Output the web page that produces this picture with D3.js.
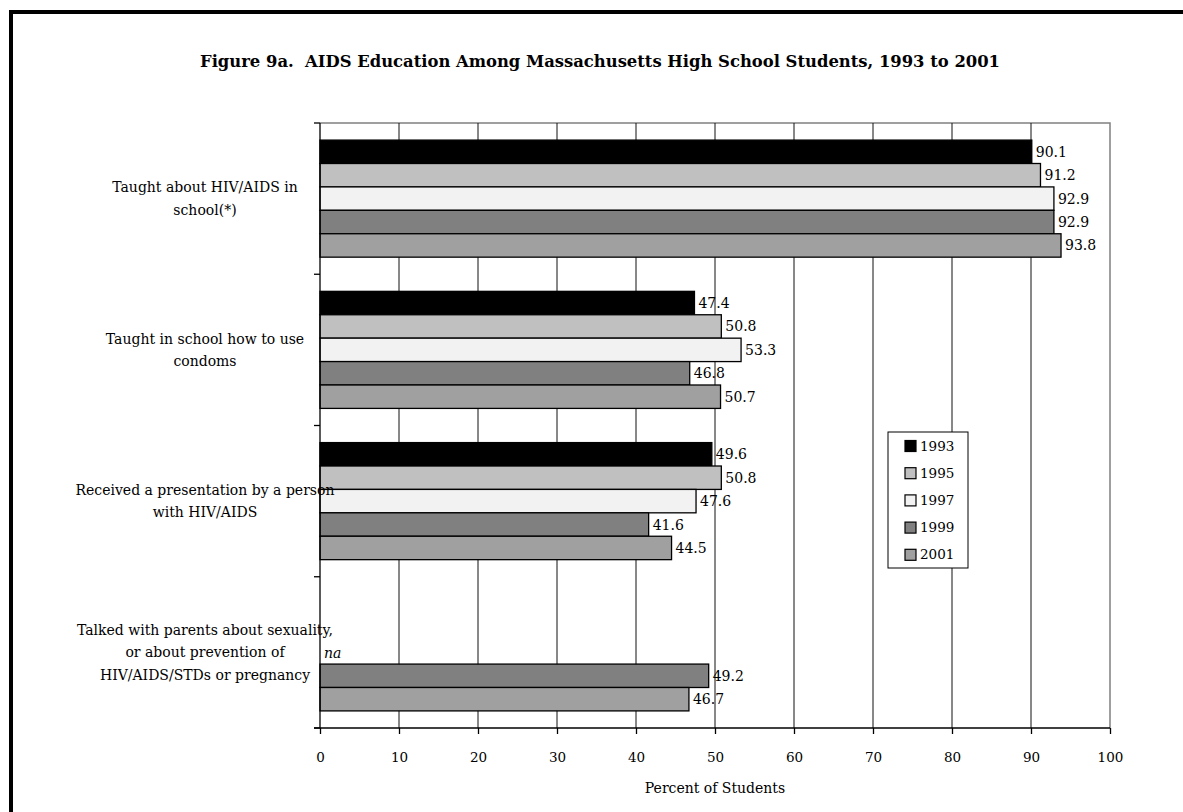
<!DOCTYPE html>
<html>
<head>
<meta charset="utf-8">
<script src="https://cdn.jsdelivr.net/npm/d3@7"></script>
<style>
  body { margin: 0; background: #fff; }
  svg { display: block; }
  text { font-family: "DejaVu Serif", serif; fill: #000; }
</style>
</head>
<body>
<svg id="chart" width="1183" height="812"></svg>
<script>
// Chart data
const categories = [
  ['Taught about HIV/AIDS in', 'school(*)'],
  ['Taught in school how to use', 'condoms'],
  ['Received a presentation by a person', 'with HIV/AIDS'],
  ['Talked with parents about sexuality,', 'or about prevention of', 'HIV/AIDS/STDs or pregnancy']
];
const years = ['1993', '1995', '1997', '1999', '2001'];
// one row per category, one value per year (null = not asked)
const values = [
  [90.1, 91.2, 92.9, 92.9, 93.8],
  [47.4, 50.8, 53.3, 46.8, 50.7],
  [49.6, 50.8, 47.6, 41.6, 44.5],
  [null, null, null, 49.2, 46.7]
];
const xTicks = [0, 10, 20, 30, 40, 50, 60, 70, 80, 90, 100];

const YEAR_COLORS = {
  '1993': '#000000',
  '1995': '#c0c0c0',
  '1997': '#f2f2f2',
  '1999': '#808080',
  '2001': '#a0a0a0'
};

const svg = d3.select('#chart');
const plot = { left: 320, right: 1110, top: 123, bottom: 728 };

// outer frame (runs off the right and bottom of the picture)
svg.append('rect')
  .attr('x', 11).attr('y', 12)
  .attr('width', 1200).attr('height', 900)
  .attr('fill', 'none')
  .attr('stroke', '#000')
  .attr('stroke-width', 4);

// title
svg.append('text')
  .attr('x', 600).attr('y', 67)
  .attr('text-anchor', 'middle')
  .attr('font-weight', 'bold')
  .attr('font-size', 17.5)
  .attr('textLength', 800)
  .attr('lengthAdjust', 'spacingAndGlyphs')
  .text('Figure 9a.\u00a0 AIDS Education Among Massachusetts High School Students, 1993 to 2001');

const x = d3.scaleLinear().domain([0, 100]).range([plot.left, plot.right]);
const y = d3.scaleBand()
  .domain(d3.range(categories.length))
  .range([plot.top, plot.bottom])
  .padding(0);
const yInner = d3.scaleBand()
  .domain(years)
  .range([0, y.bandwidth()])
  .paddingInner(0)
  .paddingOuter(0.73);

// plot frame (gray top and right)
svg.append('path')
  .attr('d', `M${plot.left},${plot.top}H${plot.right}V${plot.bottom}`)
  .attr('fill', 'none')
  .attr('stroke', '#808080')
  .attr('stroke-width', 1.5);

// vertical gridlines
svg.append('g')
  .selectAll('line')
  .data(xTicks.filter(t => t > 0 && t < 100))
  .join('line')
  .attr('x1', d => x(d)).attr('x2', d => x(d))
  .attr('y1', plot.top).attr('y2', plot.bottom)
  .attr('stroke', '#111')
  .attr('stroke-width', 1);

// bars
const groups = svg.append('g')
  .selectAll('g')
  .data(values)
  .join('g')
  .attr('transform', (d, i) => `translate(0,${y(i)})`);

const cells = groups.selectAll('g')
  .data(row => row.map((v, j) => ({ year: years[j], value: v })))
  .join('g');

cells.filter(d => d.value !== null)
  .append('rect')
  .attr('x', x(0))
  .attr('y', d => yInner(d.year))
  .attr('width', d => x(d.value) - x(0))
  .attr('height', yInner.bandwidth())
  .attr('fill', d => YEAR_COLORS[d.year])
  .attr('stroke', '#000')
  .attr('stroke-width', 1.3);

cells.filter(d => d.value !== null)
  .append('text')
  .attr('x', d => x(d.value) + 4)
  .attr('y', d => yInner(d.year) + yInner.bandwidth() / 2 + 1)
  .attr('dominant-baseline', 'middle')
  .attr('font-size', 14)
  .text(d => d.value.toFixed(1));

// "na" marker where the question was not asked
groups.filter(row => row.some(v => v === null))
  .append('text')
  .attr('x', x(0) + 4)
  .attr('y', yInner('1997') + yInner.bandwidth() / 2 + 2)
  .attr('dominant-baseline', 'middle')
  .attr('font-style', 'italic')
  .attr('font-size', 14)
  .text('na');

// left axis line with ticks at the band boundaries
const yEdges = d3.range(categories.length).map(i => y(i)).concat([plot.bottom]);
svg.append('line')
  .attr('x1', plot.left).attr('x2', plot.left)
  .attr('y1', plot.top).attr('y2', plot.bottom)
  .attr('stroke', '#000').attr('stroke-width', 1.3);
svg.append('g')
  .selectAll('line')
  .data(yEdges)
  .join('line')
  .attr('x1', plot.left - 6).attr('x2', plot.left)
  .attr('y1', d => d).attr('y2', d => d)
  .attr('stroke', '#000').attr('stroke-width', 1.3);

// category labels
const labelGroup = svg.append('g');
categories.forEach((lines, i) => {
  const cy = y(i) + y.bandwidth() / 2;
  const lh = 22.5;
  const t = labelGroup.append('text')
    .attr('text-anchor', 'middle')
    .attr('font-size', 14);
  lines.forEach((line, k) => {
    t.append('tspan')
      .attr('x', 205)
      .attr('y', cy + (k - (lines.length - 1) / 2) * lh + 5)
      .text(line);
  });
});

// bottom axis
const xAxis = d3.axisBottom(x)
  .tickValues(xTicks)
  .tickSize(6)
  .tickPadding(18)
  .tickFormat(d3.format('d'));
const gx = svg.append('g')
  .attr('transform', `translate(0,${plot.bottom})`)
  .call(xAxis);
gx.select('.domain').remove();
gx.append('line')
  .attr('x1', plot.left - 6).attr('x2', plot.right)
  .attr('stroke', '#000').attr('stroke-width', 1.3);
gx.selectAll('.tick line').attr('stroke', '#000').attr('stroke-width', 1.3);
gx.selectAll('.tick text')
  .attr('font-family', '"DejaVu Serif", serif')
  .attr('font-size', 13.5)
  .attr('fill', '#000');

svg.append('text')
  .attr('x', (plot.left + plot.right) / 2)
  .attr('y', 793)
  .attr('text-anchor', 'middle')
  .attr('font-size', 14)
  .text('Percent of Students');

// legend
const legend = svg.append('g').attr('transform', 'translate(888,432)');
legend.append('rect')
  .attr('width', 80).attr('height', 136)
  .attr('fill', '#fff')
  .attr('stroke', '#000')
  .attr('stroke-width', 1);
const items = legend.selectAll('g.item')
  .data(years)
  .join('g')
  .attr('class', 'item')
  .attr('transform', (d, i) => `translate(17,${14 + i * 27.2})`);
items.append('rect')
  .attr('x', 0).attr('y', -5.5)
  .attr('width', 11).attr('height', 11)
  .attr('fill', d => YEAR_COLORS[d])
  .attr('stroke', '#000')
  .attr('stroke-width', 1.2);
items.append('text')
  .attr('x', 15).attr('y', 1)
  .attr('dominant-baseline', 'middle')
  .attr('font-size', 13.5)
  .text(d => d);
</script>
</body>
</html>
